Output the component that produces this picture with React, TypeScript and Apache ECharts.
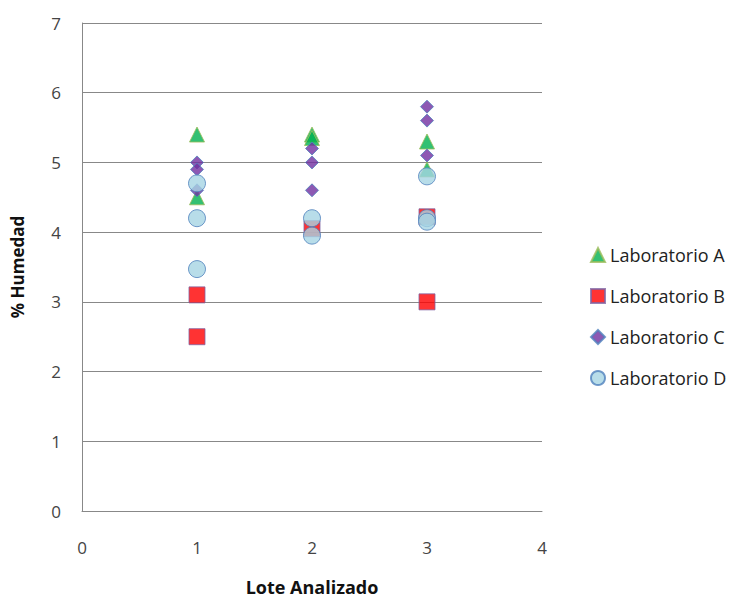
import React, { useEffect, useRef } from "react";
import * as echarts from "echarts";

const seriesNames = ["Laboratorio A", "Laboratorio B", "Laboratorio C", "Laboratorio D"];
const labA: [number, number][] = [[1, 5.4], [1, 4.5], [2, 5.4], [2, 5.35], [3, 5.3], [3, 4.9]];
const labB: [number, number][] = [[1, 3.1], [1, 2.5], [2, 4.05], [3, 4.22], [3, 3.0]];
const labC: [number, number][] = [[1, 5.0], [1, 4.9], [1, 4.6], [2, 5.2], [2, 5.0], [2, 4.6], [3, 5.8], [3, 5.6], [3, 5.1]];
const labD: [number, number][] = [[1, 4.7], [1, 4.2], [1, 3.47], [2, 4.2], [2, 3.95], [3, 4.8], [3, 4.2], [3, 4.15]];

export default function App() {
  const ref = useRef<HTMLDivElement>(null);
  useEffect(() => {
    const chart = echarts.init(ref.current!, null, { renderer: "svg" });
    const font = "'Open Sans', sans-serif";
    chart.setOption({
      animation: false,
      textStyle: { fontFamily: font },
      grid: { left: 82, right: 189, top: 23, bottom: 90, outerBoundsMode: "none" },
      legend: {
        orient: "vertical",
        left: 585,
        top: 239,
        itemGap: 19,
        itemWidth: 14,
        itemHeight: 14,
        textStyle: { fontSize: 18, color: "#222", fontFamily: font, lineHeight: 22 },
        data: seriesNames,
      },
      xAxis: {
        type: "value",
        min: 0,
        max: 4,
        interval: 1,
        name: "Lote Analizado",
        nameLocation: "middle",
        nameGap: 66,
        nameTextStyle: { fontSize: 18, fontWeight: "bold", color: "#111", fontFamily: font, lineHeight: 20 },
        axisLine: { show: true, onZero: false, lineStyle: { color: "#888" } },
        axisTick: { show: false },
        axisLabel: { fontSize: 17, color: "#444", margin: 28 },
        splitLine: { show: false },
      },
      yAxis: {
        type: "value",
        min: 0,
        max: 7,
        interval: 1,
        name: "% Humedad",
        nameLocation: "middle",
        nameGap: 56,
        nameTextStyle: { fontSize: 17, fontWeight: "bold", color: "#111", fontFamily: font },
        axisLine: { show: true, lineStyle: { color: "#888" } },
        axisTick: { show: false },
        axisLabel: { fontSize: 17, color: "#444", margin: 21 },
        splitLine: { show: true, lineStyle: { color: "#888" } },
      },
      series: [
        {
          name: seriesNames[0], type: "scatter", data: labA, symbol: "triangle", symbolSize: 15,
          itemStyle: { color: "#00B050", borderColor: "#9BBB59", borderWidth: 1 },
        },
        {
          name: seriesNames[1], type: "scatter", data: labB, symbol: "rect", symbolSize: 16,
          itemStyle: { color: "#FF0000", borderColor: "#8064A2", borderWidth: 1 },
        },
        {
          name: seriesNames[2], type: "scatter", data: labC, symbol: "diamond", symbolSize: 13,
          itemStyle: { color: "#7030A0", borderColor: "#4F81BD", borderWidth: 1 },
        },
        {
          name: seriesNames[3], type: "scatter", data: labD, symbol: "circle", symbolSize: 17,
          itemStyle: { color: "#A6D4E4", borderColor: "#4F81BD", borderWidth: 1 },
        },
      ],
    });
    return () => chart.dispose();
  }, []);
  return <div ref={ref} style={{ width: 731, height: 601, position: "absolute", left: 0, top: 0 }} />;
}
